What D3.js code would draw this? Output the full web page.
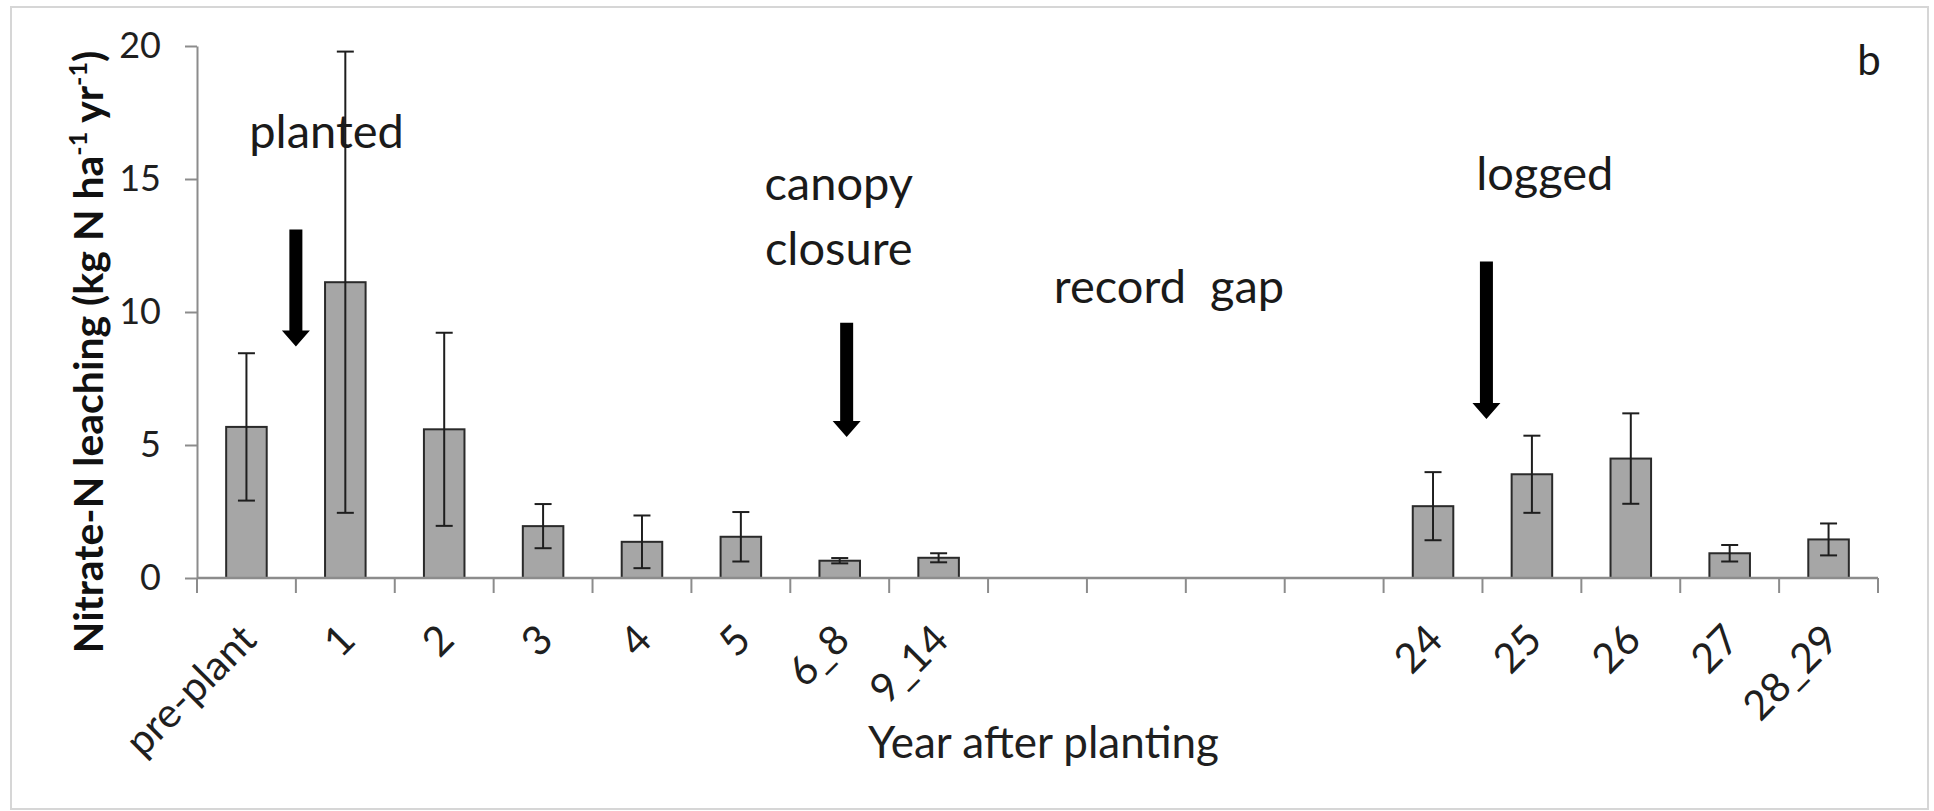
<!DOCTYPE html>
<html>
<head>
<meta charset="utf-8">
<script src="https://cdn.jsdelivr.net/npm/d3@7"></script>
<style>
  html, body { margin: 0; padding: 0; background: #fff; }
  svg { display: block; }
  text { font-family: Lato, "Open Sans", sans-serif; }
</style>
</head>
<body>
<svg id="chart" width="1934" height="811"></svg>
<script>
// ---- data ----
const categories = ["pre-plant", "1", "2", "3", "4", "5", "6_8", "9_14", "gap1", "gap2", "gap3", "gap4", "24", "25", "26", "27", "28_29"];
const tickLabels = ["pre-plant", "1", "2", "3", "4", "5", "6_8", "9_14", "", "", "", "", "24", "25", "26", "27", "28_29"];
const leaching = [5.68, 11.12, 5.59, 1.95, 1.36, 1.55, 0.65, 0.76, null, null, null, null, 2.70, 3.90, 4.49, 0.93, 1.45];
const errors = [2.77, 8.67, 3.63, 0.83, 0.99, 0.93, 0.10, 0.17, null, null, null, null, 1.28, 1.45, 1.70, 0.31, 0.60];
const yTicks = [0, 5, 10, 15, 20];
const xTitle = "Year after planting";
const panelLabel = "b";

const svg = d3.select("#chart");
const plot = { left: 197, right: 1878, top: 46, bottom: 578 };

// outer frame
svg.append("rect").attr("x", 11).attr("y", 7).attr("width", 1917).attr("height", 802)
  .attr("fill", "#fff").attr("stroke", "#d6d6d6").attr("stroke-width", 2);

const x = d3.scaleBand().domain(categories).range([plot.left, plot.right])
  .paddingInner(0.59).paddingOuter(0.295);
const step = x.step();
const y = d3.scaleLinear().domain([0, 20]).range([plot.bottom, plot.top]);
const pos = s => plot.left + s * step; // position in slot units

const axisColor = "#8c8c8c";
const textColor = "#1f1f1f";

// y axis
const yAxis = svg.append("g").attr("transform", `translate(${plot.left},0)`)
  .call(d3.axisLeft(y).tickValues(yTicks).tickSize(12).tickSizeOuter(0).tickPadding(24));
yAxis.select(".domain").attr("stroke", axisColor).attr("stroke-width", 2);
yAxis.selectAll(".tick line").attr("stroke", axisColor).attr("stroke-width", 2);
yAxis.selectAll(".tick text").attr("font-size", 36).attr("fill", textColor)
  .attr("font-family", "Lato, sans-serif");

// bars
const rows = categories.map((c, i) => ({ c, v: leaching[i], e: errors[i], label: tickLabels[i] }));
const data = rows.filter(d => d.v != null);

svg.append("g").selectAll("rect").data(data).join("rect")
  .attr("x", d => x(d.c)).attr("width", x.bandwidth())
  .attr("y", d => y(d.v)).attr("height", d => y(0) - y(d.v))
  .attr("fill", "#a6a6a6").attr("stroke", "#2a2a2a").attr("stroke-width", 2);

// x axis line and boundary ticks
const xAxis = svg.append("g");
xAxis.append("line").attr("x1", plot.left).attr("x2", plot.right)
  .attr("y1", y(0)).attr("y2", y(0)).attr("stroke", axisColor).attr("stroke-width", 2.5);
xAxis.selectAll("line.tk").data(d3.range(categories.length + 1)).join("line").attr("class", "tk")
  .attr("x1", i => pos(i)).attr("x2", i => pos(i))
  .attr("y1", y(0)).attr("y2", y(0) + 15)
  .attr("stroke", axisColor).attr("stroke-width", 2);
xAxis.selectAll("text").data(rows).join("text")
  .attr("transform", d => `translate(${x(d.c) + x.bandwidth() / 2 + 2},${y(0) + 54}) rotate(-45)`)
  .attr("text-anchor", "end").attr("dy", "0.35em")
  .attr("font-size", 41).attr("fill", textColor)
  .text(d => d.label);

// error bars
const eb = svg.append("g").attr("stroke", "#1e1e1e").attr("stroke-width", 2);
const cx = d => x(d.c) + x.bandwidth() / 2;
eb.selectAll("line.v").data(data).join("line").attr("class", "v")
  .attr("x1", cx).attr("x2", cx).attr("y1", d => y(d.v + d.e)).attr("y2", d => y(d.v - d.e));
eb.selectAll("line.hi").data(data).join("line").attr("class", "hi")
  .attr("x1", d => cx(d) - 8.5).attr("x2", d => cx(d) + 8.5)
  .attr("y1", d => y(d.v + d.e)).attr("y2", d => y(d.v + d.e));
eb.selectAll("line.lo").data(data).join("line").attr("class", "lo")
  .attr("x1", d => cx(d) - 8.5).attr("x2", d => cx(d) + 8.5)
  .attr("y1", d => y(d.v - d.e)).attr("y2", d => y(d.v - d.e));

// axis titles
svg.append("text").attr("x", (plot.left + plot.right) / 2 + 6).attr("y", 758)
  .attr("text-anchor", "middle").attr("font-size", 44).attr("fill", textColor).text(xTitle);

const yt = svg.append("text")
  .attr("transform", `translate(103,352) rotate(-90)`)
  .attr("text-anchor", "middle").attr("font-size", 41).attr("font-weight", "bold").attr("fill", "#111");
yt.append("tspan").text("Nitrate-N leaching (kg N ha");
yt.append("tspan").attr("font-size", 25).attr("dy", -16).text("-1");
yt.append("tspan").attr("dy", 16).text(" yr");
yt.append("tspan").attr("font-size", 25).attr("dy", -16).text("-1");
yt.append("tspan").attr("dy", 16).text(")");

// annotations (slot units for x, data units for y)
const notes = [
  { t: "planted", s: 1.31, v: 16.17 },
  { t: "canopy", s: 6.49, v: 14.2 },
  { t: "closure", s: 6.49, v: 11.77 },
  { t: "record\u00A0\u00A0gap", s: 9.83, v: 10.34 },
  { t: "logged", s: 13.63, v: 14.59 }
];
svg.append("g").selectAll("text").data(notes).join("text")
  .attr("x", d => pos(d.s)).attr("y", d => y(d.v))
  .attr("text-anchor", "middle").attr("font-size", 47).attr("fill", "#1a1a1a")
  .text(d => d.t);

svg.append("text").attr("x", pos(16.91)).attr("y", y(18.91))
  .attr("text-anchor", "middle").attr("font-size", 42).attr("fill", "#1a1a1a").text(panelLabel);

// arrows
const arrows = [
  { s: 1.0, top: 13.1, tip: 8.7 },
  { s: 6.57, top: 9.6, tip: 5.3 },
  { s: 13.04, top: 11.9, tip: 5.98 }
];
const shaftW = 13, headW = 28, headL = 16;
svg.append("g").selectAll("path").data(arrows).join("path")
  .attr("d", d => {
    const ax = pos(d.s), y1 = y(d.top), y2 = y(d.tip);
    const p = d3.path();
    p.moveTo(ax - shaftW / 2, y1);
    p.lineTo(ax + shaftW / 2, y1);
    p.lineTo(ax + shaftW / 2, y2 - headL);
    p.lineTo(ax + headW / 2, y2 - headL);
    p.lineTo(ax, y2);
    p.lineTo(ax - headW / 2, y2 - headL);
    p.lineTo(ax - shaftW / 2, y2 - headL);
    p.closePath();
    return p.toString();
  })
  .attr("fill", "#000");
</script>
</body>
</html>
